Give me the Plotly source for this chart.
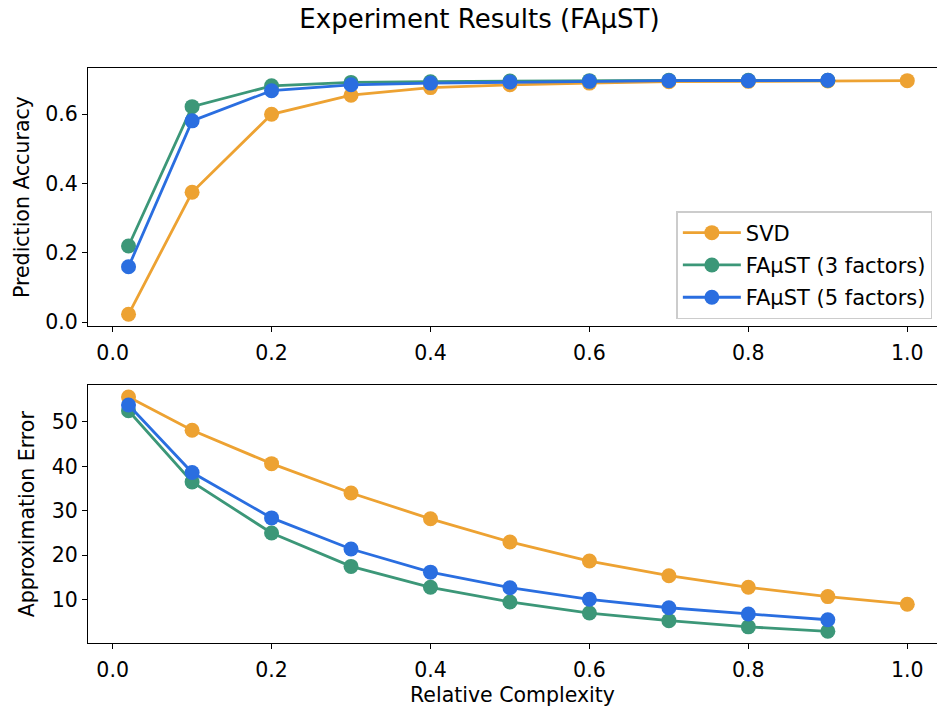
import plotly.graph_objects as go

complexity = [0.02, 0.1, 0.2, 0.3, 0.4, 0.5, 0.6, 0.7, 0.8, 0.9, 1.0]
complexity_faust = [0.02, 0.1, 0.2, 0.3, 0.4, 0.5, 0.6, 0.7, 0.8, 0.9]

acc_svd = [0.023, 0.375, 0.600, 0.655, 0.677, 0.685, 0.690, 0.694, 0.695, 0.696, 0.697]
acc_faust3 = [0.220, 0.622, 0.682, 0.692, 0.694, 0.696, 0.697, 0.698, 0.698, 0.698]
acc_faust5 = [0.160, 0.581, 0.668, 0.685, 0.690, 0.693, 0.695, 0.697, 0.697, 0.698]

err_svd = [55.6, 48.1, 40.6, 34.0, 28.2, 23.0, 18.7, 15.4, 12.8, 10.7, 9.0]
err_faust3 = [52.5, 36.5, 25.0, 17.5, 12.8, 9.5, 7.0, 5.3, 3.9, 2.9]
err_faust5 = [53.8, 38.6, 28.4, 21.4, 16.2, 12.7, 10.1, 8.2, 6.8, 5.5]

names = ["SVD", "FAμST (3 factors)", "FAμST (5 factors)"]
colors = ["#EDA232", "#3C9778", "#2A6EE0"]

FONT = "DejaVu Sans"
FS = 20.5
fig = go.Figure()

series_top = [(complexity, acc_svd), (complexity_faust, acc_faust3), (complexity_faust, acc_faust5)]
series_bot = [(complexity, err_svd), (complexity_faust, err_faust3), (complexity_faust, err_faust5)]

for i, (xs, ys) in enumerate(series_top):
    fig.add_trace(go.Scatter(x=xs, y=ys, mode="lines+markers", name=names[i],
                             legendgroup=f"g{i}",
                             line=dict(color=colors[i], width=2.8),
                             marker=dict(color=colors[i], size=15),
                             xaxis="x", yaxis="y"))
for i, (xs, ys) in enumerate(series_bot):
    fig.add_trace(go.Scatter(x=xs, y=ys, mode="lines+markers", name=names[i],
                             legendgroup=f"g{i}", showlegend=False,
                             line=dict(color=colors[i], width=2.8),
                             marker=dict(color=colors[i], size=15),
                             xaxis="x2", yaxis="y2"))

axis_common = dict(showline=True, linecolor="black", linewidth=1.2, ticks="outside",
                   ticklen=5, tickwidth=1.2, tickcolor="black", showgrid=False,
                   zeroline=False, tickfont=dict(family=FONT, size=FS, color="black"))

xticks = [0.0, 0.2, 0.4, 0.6, 0.8, 1.0]
xtext = ["0.0", "0.2", "0.4", "0.6", "0.8", "1.0"]

fig.update_layout(
    width=937, height=711,
    margin=dict(l=88, r=0, t=68, b=68, autoexpand=False),
    paper_bgcolor="white", plot_bgcolor="white",
    title=dict(text="Experiment Results (FAμST)", x=0.5117, xanchor="center",
               yref="container", y=1 - 19 / 711, yanchor="middle",
               font=dict(family=FONT, size=26, color="black")),
    xaxis=dict(**axis_common, domain=[0, 1], anchor="y", mirror=True,
               range=[-0.031, 1.0374], tickvals=xticks, ticktext=xtext,
               ticklabelstandoff=3),
    yaxis=dict(**axis_common, domain=[0.5513, 1.0], anchor="x",
               range=[-0.0107, 0.7335], tickvals=[0.0, 0.2, 0.4, 0.6],
               ticktext=["0.0", "0.2", "0.4", "0.6"],
               title=dict(text="Prediction Accuracy", standoff=10,
                          font=dict(family=FONT, size=FS, color="black"))),
    xaxis2=dict(**axis_common, domain=[0, 1], anchor="y2", mirror=True,
                range=[-0.031, 1.0374], tickvals=xticks, ticktext=xtext,
                ticklabelstandoff=3,
                title=dict(text="Relative Complexity", standoff=6,
                           font=dict(family=FONT, size=FS, color="black"))),
    yaxis2=dict(**axis_common, domain=[0.0, 0.448], anchor="x2",
                range=[0.27, 58.2], tickvals=[10, 20, 30, 40, 50],
                title=dict(text="Approximation Error", standoff=11,
                           font=dict(family=FONT, size=FS, color="black"))),
    legend=dict(x=0.693, y=0.7513, xanchor="left", yanchor="top",
                bgcolor="rgba(255,255,255,0.8)", bordercolor="#cccccc", borderwidth=1.5,
                font=dict(family=FONT, size=21, color="black"),
                tracegroupgap=2, itemwidth=58),
)

fig.write_html("out.html", config={"displayModeBar": False},
               post_script="document.body.style.margin='0';")
